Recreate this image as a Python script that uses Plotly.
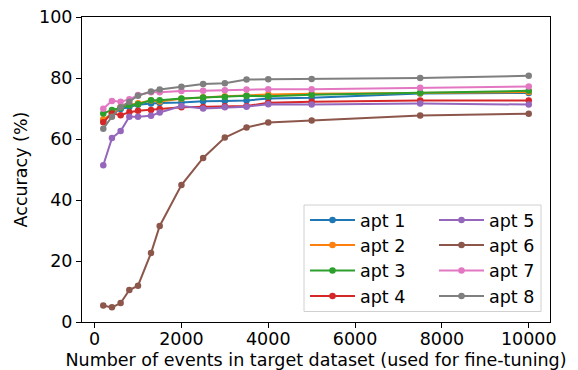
import plotly.graph_objects as go

events = [200, 400, 600, 800, 1000, 1300, 1500, 2000, 2500, 3000, 3500, 4000, 5000, 7500, 10000]

apt1 = [66.0, 68.5, 69.8, 70.5, 71.2, 71.6, 71.8, 72.0, 72.4, 72.5, 72.6, 73.3, 73.5, 74.9, 75.1]
apt2 = [66.5, 68.0, 70.5, 71.2, 71.7, 72.6, 72.3, 73.2, 73.7, 74.0, 74.3, 74.6, 74.8, 75.0, 75.4]
apt3 = [68.4, 69.5, 70.2, 71.1, 71.4, 72.7, 72.7, 73.3, 73.6, 73.8, 74.2, 74.0, 74.5, 75.2, 75.8]
apt4 = [65.5, 68.4, 67.8, 68.8, 69.3, 69.5, 69.8, 70.4, 70.5, 70.7, 70.8, 71.9, 72.2, 72.6, 72.6]
apt5 = [51.4, 60.3, 62.6, 67.3, 67.3, 67.6, 68.7, 70.8, 70.0, 70.4, 70.6, 71.4, 71.3, 71.6, 71.3]
apt6 = [5.4, 4.8, 6.2, 10.5, 11.9, 22.6, 31.5, 44.9, 53.8, 60.5, 63.8, 65.4, 66.1, 67.7, 68.3]
apt7 = [69.9, 72.5, 72.2, 73.0, 74.4, 75.3, 75.3, 75.7, 75.8, 76.0, 76.2, 76.3, 76.3, 76.8, 77.2]
apt8 = [63.4, 67.3, 70.4, 72.2, 74.2, 75.6, 76.2, 77.1, 78.0, 78.3, 79.5, 79.6, 79.7, 80.0, 80.7]

series = [apt1, apt2, apt3, apt4, apt5, apt6, apt7, apt8]
names = ["apt 1", "apt 2", "apt 3", "apt 4", "apt 5", "apt 6", "apt 7", "apt 8"]
colors = ["#1f77b4", "#ff7f0e", "#2ca02c", "#d62728",
          "#9467bd", "#8c564b", "#e377c2", "#7f7f7f"]

x_ticks = [0, 2000, 4000, 6000, 8000, 10000]
y_ticks = [0, 20, 40, 60, 80, 100]

FONT = "DejaVu Sans"
FS = 17.5
W, H = 578, 370
ML, MR, MT, MB = 82, 28, 17, 48
PL, PR, PT, PB = ML, W - MR, MT, H - MB  # plot area in page pixels
PW = PR - PL
PH = PB - PT

def px_to_paper_x(px):
    return (px - PL) / PW

def px_to_paper_y(py):
    return (PB - py) / PH

fig = go.Figure()
legend_layouts = {}
row_y = [220, 245, 270.5, 296]
col_x = [305, 434]
for i, (vals, name, col) in enumerate(zip(series, names, colors)):
    lname = "legend" if i == 0 else f"legend{i+1}"
    fig.add_trace(go.Scatter(
        x=events, y=vals, name=name, mode="lines+markers",
        line=dict(color=col, width=2),
        marker=dict(color=col, size=6.5),
        legend=lname,
    ))
    c, r = divmod(i, 4)
    legend_layouts[lname] = dict(
        x=px_to_paper_x(col_x[c]), y=px_to_paper_y(row_y[r]),
        xanchor="left", yanchor="middle",
        bgcolor="rgba(0,0,0,0)", borderwidth=0, itemwidth=45,
        font=dict(family=FONT, size=FS, color="#000000"),
    )

fig.update_layout(
    width=W, height=H,
    margin=dict(l=ML, r=MR, t=MT, b=MB, autoexpand=False),
    paper_bgcolor="white", plot_bgcolor="white",
    font=dict(family=FONT, size=FS, color="#000000"),
    showlegend=True,
    **legend_layouts,
)

fig.add_shape(
    type="rect", xref="paper", yref="paper",
    x0=px_to_paper_x(304), x1=px_to_paper_x(541),
    y0=px_to_paper_y(311.5), y1=px_to_paper_y(205),
    line=dict(color="#d0d0d0", width=1),
    fillcolor="rgba(255,255,255,0.8)", layer="below",
)

fig.update_xaxes(
    range=[-290, 10490], tickvals=x_ticks, ticktext=[str(v) for v in x_ticks],
    showgrid=False, zeroline=False, showline=True, linecolor="black", linewidth=1,
    mirror=True, ticks="outside", ticklen=5, tickwidth=1, tickcolor="black",
    tickfont=dict(family=FONT, size=FS), automargin=False, ticklabelstandoff=-4,
    title=dict(text="Number of events in target dataset (used for fine-tuning)",
               font=dict(family=FONT, size=FS), standoff=14),
)
fig.update_yaxes(
    range=[0, 100], tickvals=y_ticks, ticktext=[str(v) for v in y_ticks],
    showgrid=False, zeroline=False, showline=True, linecolor="black", linewidth=1,
    mirror=True, ticks="outside", ticklen=5, tickwidth=1, tickcolor="black",
    tickfont=dict(family=FONT, size=FS), automargin=False,
    title=dict(text="Accuracy (%)", font=dict(family=FONT, size=FS), standoff=6),
)

# remove the browser's default 8px body margin so the figure fills the window exactly
fig.write_html("out.html", config={"displayModeBar": False},
               post_script="document.body.style.margin='0px';")
